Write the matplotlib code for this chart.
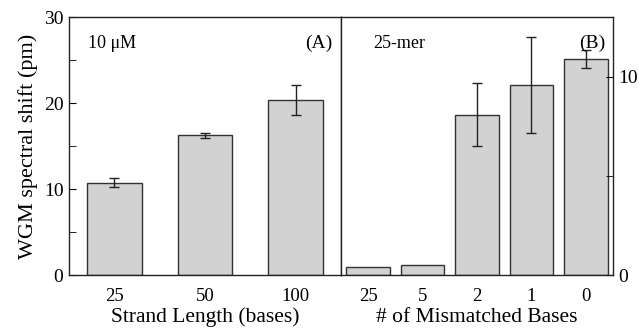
import matplotlib
matplotlib.use("Agg")
import matplotlib.pyplot as plt
import numpy as np

plt.rcParams['font.family'] = ['Liberation Serif', 'DejaVu Serif']
plt.rcParams['mathtext.fontset'] = 'stix'

# Panel A data
length_labels = ["25", "50", "100"]
length_values = [10.8, 16.3, 20.4]
length_errors = [0.5, 0.3, 1.75]

# Panel B data
mismatch_labels = ["25", "5", "2", "1", "0"]
mismatch_values = [0.4, 0.5, 8.1, 9.6, 10.9]
mismatch_errors = [0.0, 0.0, 1.6, 2.4, 0.47]

bar_color = "#d2d2d2"
edge_color = "#333333"

fig = plt.figure(figsize=(6.39, 3.29), dpi=100)
axA = fig.add_axes([0.108, 0.163, 0.4257, 0.784])
axB = fig.add_axes([0.5337, 0.163, 0.4257, 0.784])

xA = np.arange(len(length_labels))
axA.bar(xA, length_values, width=0.6, color=bar_color, edgecolor=edge_color, linewidth=1.0)
axA.errorbar(xA, length_values, yerr=length_errors, fmt='none', ecolor='#222222',
             elinewidth=1.0, capsize=3.5, capthick=1.0)
axA.set_xlim(-0.5, 2.5)
axA.set_ylim(0, 30)
axA.set_xticks(xA)
axA.set_xticklabels(length_labels)
axA.set_yticks([0, 10, 20, 30])
axA.set_yticks([5, 15, 25], minor=True)
axA.tick_params(axis='y', which='both', direction='in', left=True, right=False, labelsize=14, length=5, pad=4)
axA.tick_params(axis='x', length=0, labelsize=13.5, pad=9)
axA.set_xlabel("Strand Length (bases)", fontsize=15.5, labelpad=2)
axA.set_ylabel("WGM spectral shift (pm)", fontsize=16, labelpad=4)
axA.text(0.07, 0.9, "10 μM", transform=axA.transAxes, fontsize=13, va='center', ha='left')
axA.text(0.97, 0.9, "(A)", transform=axA.transAxes, fontsize=14, va='center', ha='right')

xB = np.arange(len(mismatch_labels))
axB.bar(xB, mismatch_values, width=0.8, color=bar_color, edgecolor=edge_color, linewidth=1.0)
err_idx = [i for i, e in enumerate(mismatch_errors) if e > 0]
axB.errorbar([xB[i] for i in err_idx], [mismatch_values[i] for i in err_idx],
             yerr=[mismatch_errors[i] for i in err_idx], fmt='none', ecolor='#222222',
             elinewidth=1.0, capsize=3.5, capthick=1.0)
axB.set_xlim(-0.5, 4.5)
axB.set_ylim(0, 13)
axB.set_xticks(xB)
axB.set_xticklabels(mismatch_labels)
axB.yaxis.tick_right()
axB.set_yticks([0, 10])
axB.set_yticks([5], minor=True)
axB.tick_params(axis='y', which='both', direction='in', left=False, right=True, labelsize=14, length=5, pad=4)
axB.tick_params(axis='x', length=0, labelsize=13.5, pad=9)
axB.set_xlabel("# of Mismatched Bases", fontsize=15.5, labelpad=2)
axB.text(0.12, 0.9, "25-mer", transform=axB.transAxes, fontsize=13, va='center', ha='left')
axB.text(0.97, 0.9, "(B)", transform=axB.transAxes, fontsize=14, va='center', ha='right')

for ax in (axA, axB):
    for s in ax.spines.values():
        s.set_linewidth(1.0)
        s.set_color("#222222")

fig.savefig("out.png", dpi=100)
